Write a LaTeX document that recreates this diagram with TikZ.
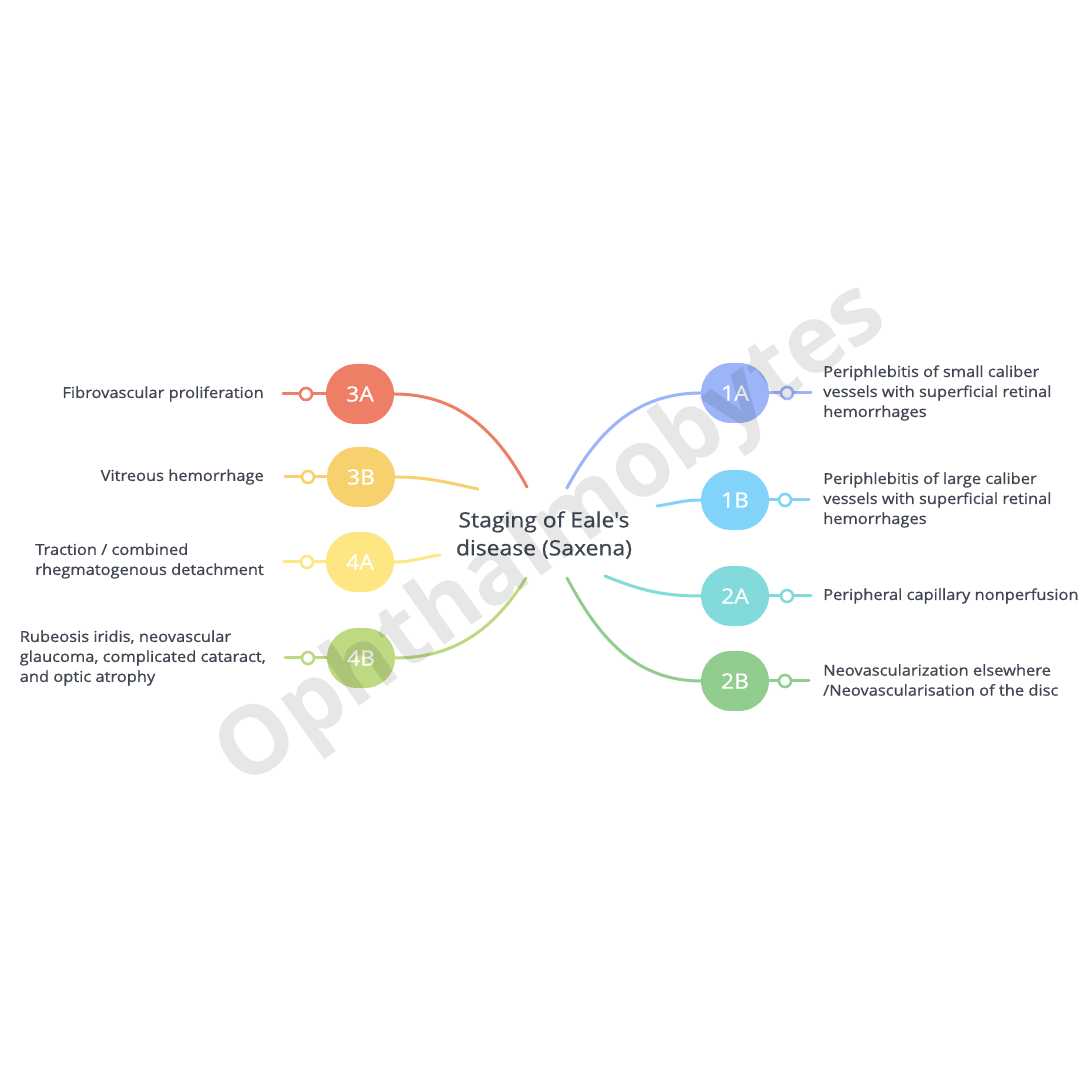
\documentclass[tikz,border=0pt]{standalone}
\usepackage{fontspec}
\setmainfont{Open Sans}[Ligatures=TeXOff, FakeStretch=1.09, FakeBold=0.8]
\newfontfamily\wmfont{Open Sans}
\usetikzlibrary{shapes.misc}
\definecolor{cA1}{HTML}{9CB4F8}
\definecolor{cB1}{HTML}{82D3F9}
\definecolor{cA2}{HTML}{82DADB}
\definecolor{cB2}{HTML}{91CD8F}
\definecolor{cA3}{HTML}{EE7F66}
\definecolor{cB3}{HTML}{F8D16F}
\definecolor{cA4}{HTML}{FEE683}
\definecolor{cB4}{HTML}{BDD982}
\definecolor{txt}{HTML}{3F4651}
\tikzset{
  stage/.style={rounded rectangle, fill=#1, text=white, minimum width=68pt, minimum height=60pt,
    inner sep=0pt, font=\fontsize{21}{24}\selectfont},
  ring/.style={circle, draw=#1, fill=white, line width=2.6pt, minimum size=12pt, inner sep=0pt},
  conn/.style={draw=#1, line width=3pt, line cap=round},
  lbl/.style={text=txt, font=\fontsize{15.1}{20}\selectfont, inner sep=0pt},
}
\begin{document}
\begin{tikzpicture}[x=1pt,y=1pt]
\useasboundingbox (0,0) rectangle (1080,1080);
\fill[white] (0,0) rectangle (1080,1080);

% centre
\node[text=txt, align=center, font=\fontsize{21}{28}\selectfont] (c) at (544,545) {Staging of Eale's\\disease (Saxena)};

% connector free ends near the centre
\coordinate (e1A) at (567,592);
\coordinate (e1B) at (657,574);
\coordinate (e2A) at (605,504);
\coordinate (e2B) at (567,502);
\coordinate (e3A) at (527,593);
\coordinate (e3B) at (478,591);
\coordinate (e4A) at (440,525);
\coordinate (e4B) at (526,502);

% tails
\coordinate (t1A) at (811,687);
\coordinate (t1B) at (809,580);
\coordinate (t2A) at (811,484);
\coordinate (t2B) at (809,399);
\coordinate (t3A) at (283,686);
\coordinate (t3B) at (285,603);
\coordinate (t4A) at (284,518);
\coordinate (t4B) at (285,422);

% stage nodes
\node[stage=cA1] (n1A) at (735,687) {1A};
\node[stage=cB1] (n1B) at (735,580) {1B};
\node[stage=cA2] (n2A) at (735,484) {2A};
\node[stage=cB2] (n2B) at (735,399) {2B};
\node[stage=cA3] (n3A) at (360,686) {3A};
\node[stage=cB3] (n3B) at (361,603) {3B};
\node[stage=cA4] (n4A) at (360,518) {4A};
\node[stage=cB4] (n4B) at (361,422) {4B};

% branches
\draw[conn=cA1] (e1A) to[out=62,in=180] (n1A.west);
\draw[conn=cB1] (e1B) to[out=8,in=180] (n1B.west);
\draw[conn=cA2] (e2A) to[out=-22,in=180] (n2A.west);
\draw[conn=cB2] (e2B) to[out=-62,in=180] (n2B.west);
\draw[conn=cA3] (n3A.east) to[out=0,in=118] (e3A);
\draw[conn=cB3] (n3B.east) to[out=0,in=168] (e3B);
\draw[conn=cA4] (n4A.east) to[out=0,in=188] (e4A);
\draw[conn=cB4] (n4B.east) to[out=0,in=238] (e4B);

% tails and rings
\draw[conn=cA1] (n1A.east) -- (t1A);
\draw[conn=cB1] (n1B.east) -- (t1B);
\draw[conn=cA2] (n2A.east) -- (t2A);
\draw[conn=cB2] (n2B.east) -- (t2B);
\draw[conn=cA3] (n3A.west) -- (t3A);
\draw[conn=cB3] (n3B.west) -- (t3B);
\draw[conn=cA4] (n4A.west) -- (t4A);
\draw[conn=cB4] (n4B.west) -- (t4B);
\node[ring=cA1] (r1A) at (787,687) {};
\node[ring=cB1] (r1B) at (785,580) {};
\node[ring=cA2] (r2A) at (787,484) {};
\node[ring=cB2] (r2B) at (785,399) {};
\node[ring=cA3] (r3A) at (306,686) {};
\node[ring=cB3] (r3B) at (308,603) {};
\node[ring=cA4] (r4A) at (307,518) {};
\node[ring=cB4] (r4B) at (308,422) {};

% labels
\node[lbl, anchor=west, align=left] (l1A) at (823,687) {Periphlebitis of small caliber\\vessels with superficial retinal\\hemorrhages};
\node[lbl, anchor=west, align=left] (l1B) at (823,580) {Periphlebitis of large caliber\\vessels with superficial retinal\\hemorrhages};
\node[lbl, anchor=west, align=left] (l2A) at (823,484) {Peripheral capillary nonperfusion};
\node[lbl, anchor=west, align=left] (l2B) at (823,400) {Neovascularization elsewhere\\/Neovascularisation of the disc};
\node[lbl, anchor=east, align=left] (l3A) at (264,686) {Fibrovascular proliferation};
\node[lbl, anchor=east, align=left] (l3B) at (264,603) {Vitreous hemorrhage};
\node[lbl, anchor=east, align=left] (l4A) at (264,519) {Traction / combined\\rhegmatogenous detachment};
\node[lbl, anchor=east, align=left] (l4B) at (266,422) {Rubeosis iridis, neovascular\\glaucoma, complicated cataract,\\and optic atrophy};

% watermark
\node[rotate=35.7, text=black, text opacity=0.095, font=\wmfont\bfseries\fontsize{95}{100}\selectfont] (wm) at (553,543) {Ophthalmobytes};
\end{tikzpicture}
\end{document}
